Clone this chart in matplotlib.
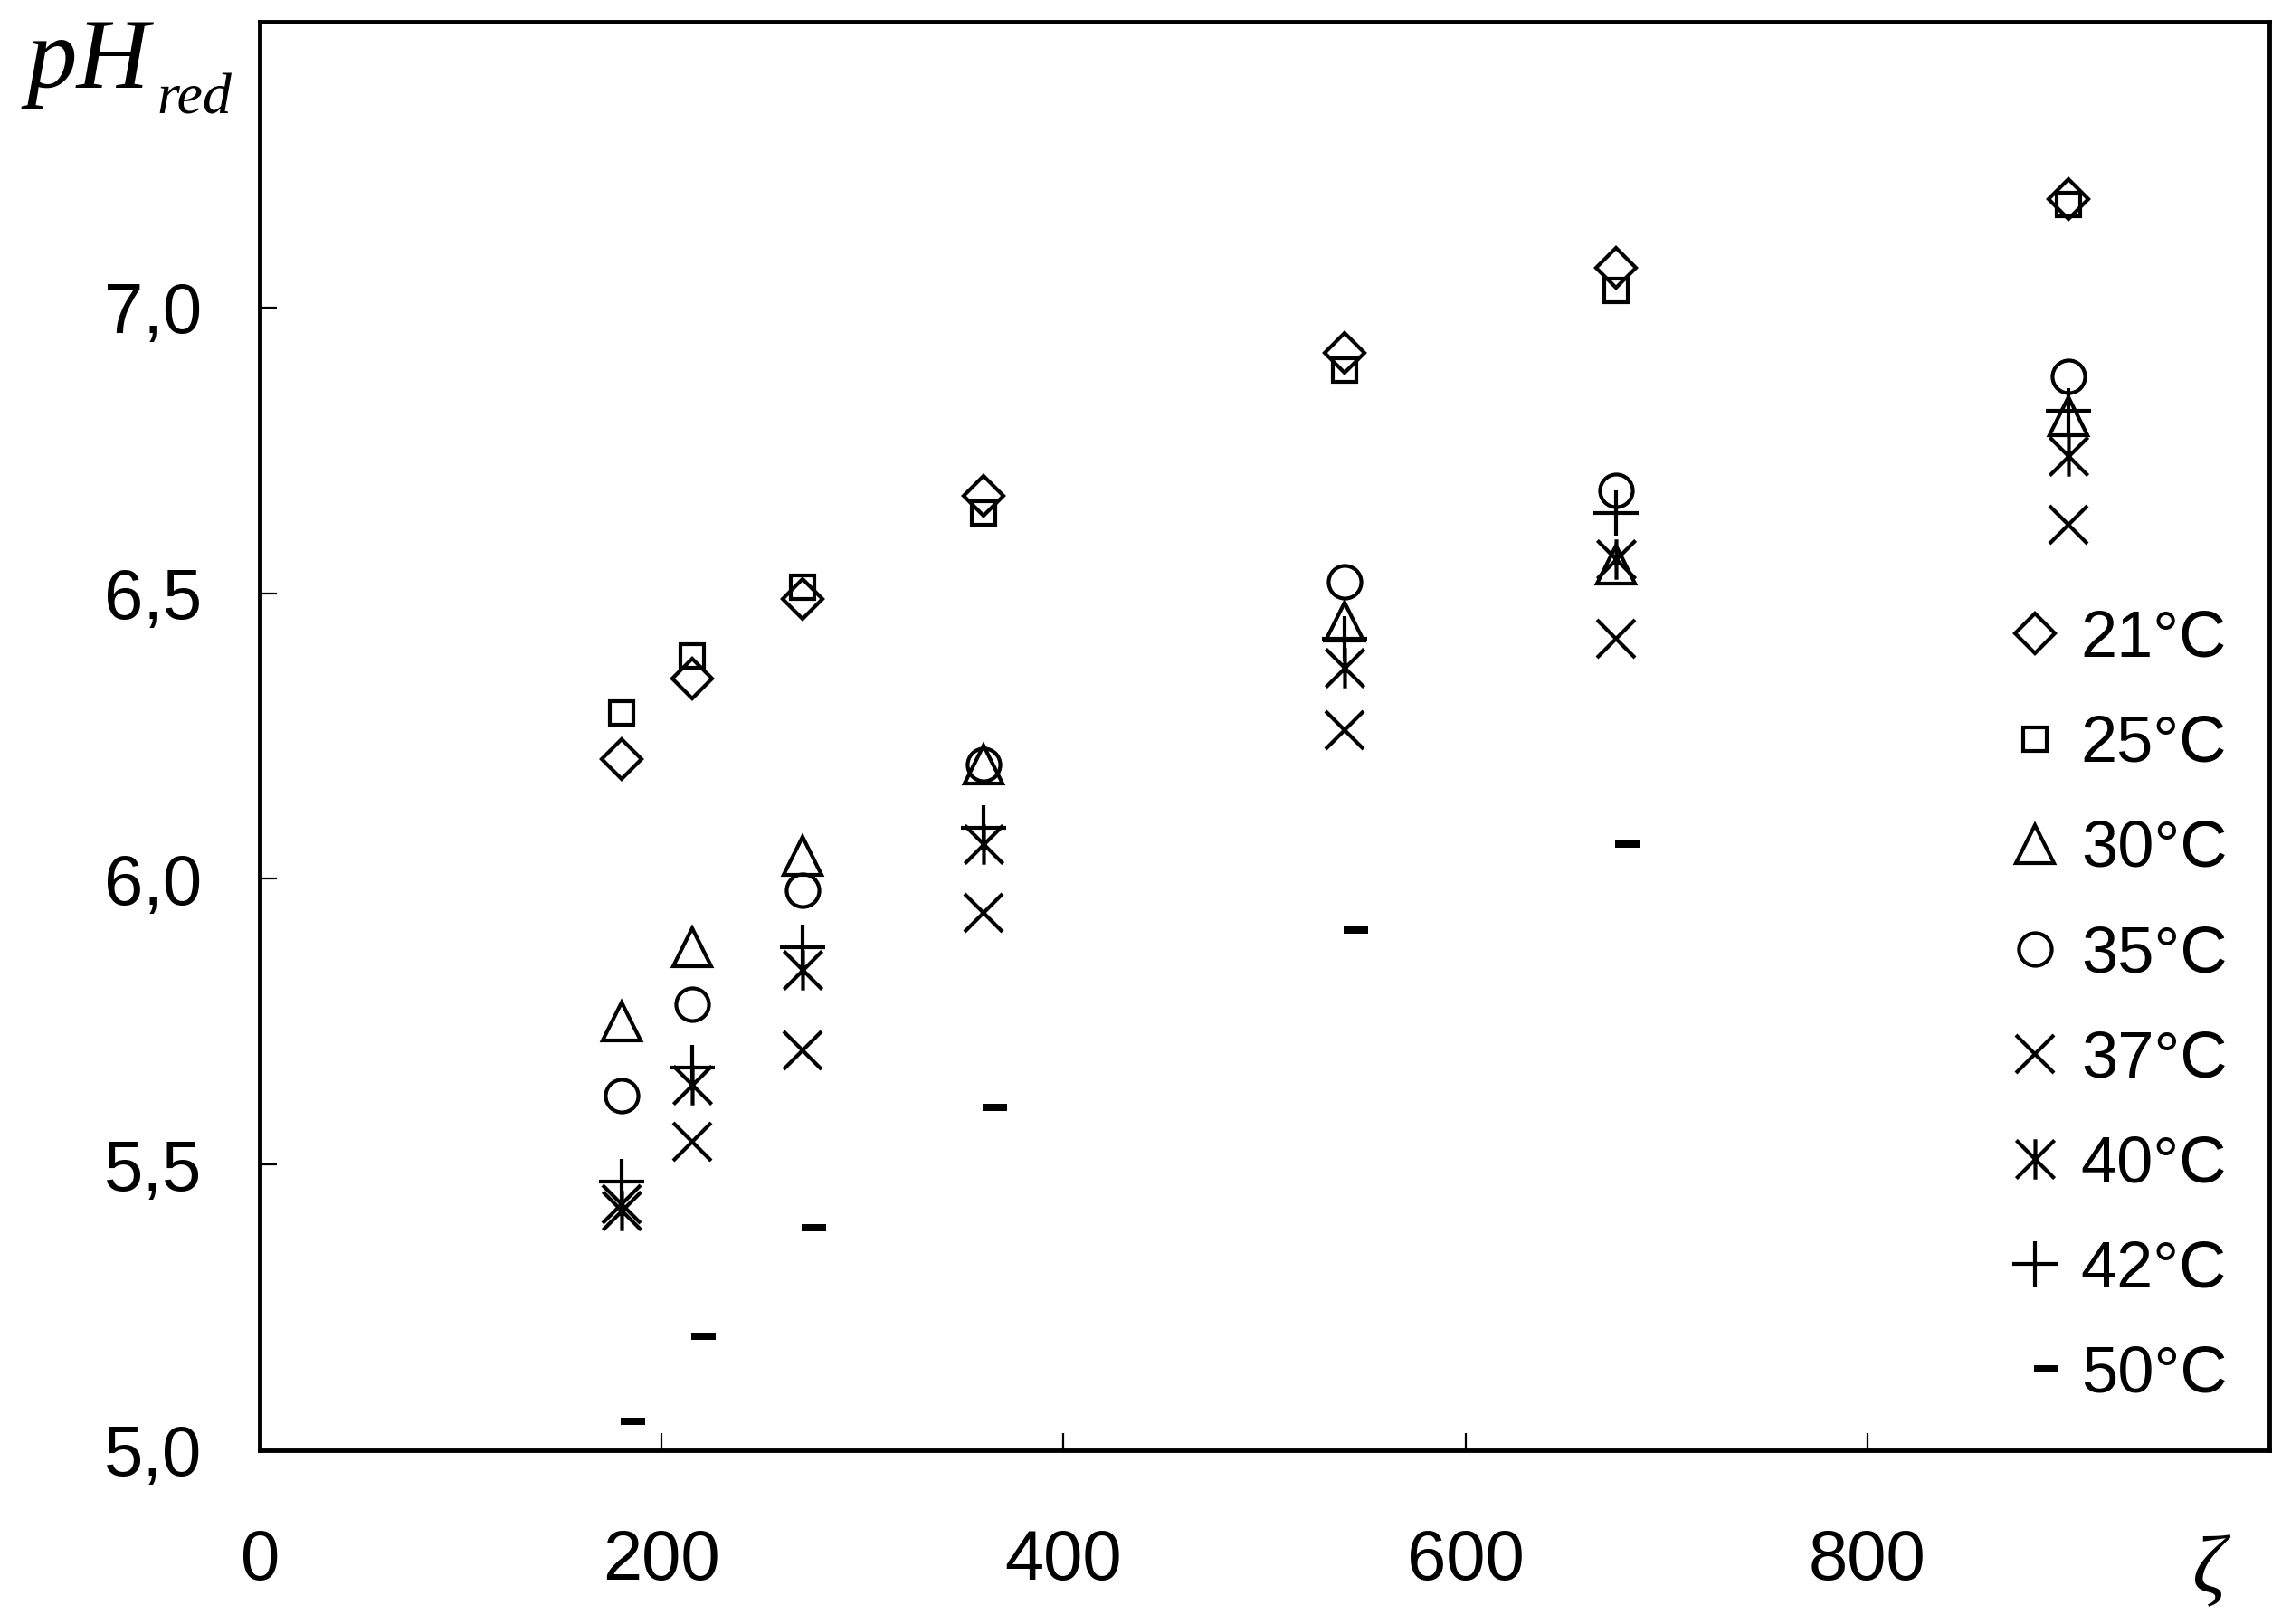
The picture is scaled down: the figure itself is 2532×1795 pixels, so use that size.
import matplotlib
matplotlib.use("Agg")
import matplotlib.pyplot as plt
from matplotlib.path import Path
from matplotlib.lines import Line2D

# zeta values (same for every series)
zeta = [180, 215, 270, 360, 540, 675, 900]

ph_21 = [6.21, 6.35, 6.49, 6.67, 6.92, 7.07, 7.19]
ph_25 = [6.29, 6.39, 6.51, 6.64, 6.89, 7.03, 7.18]
ph_30 = [5.75, 5.88, 6.04, 6.20, 6.45, 6.55, 6.81]
ph_35 = [5.62, 5.78, 5.98, 6.20, 6.52, 6.68, 6.88]
ph_37 = [5.43, 5.54, 5.70, 5.94, 6.26, 6.42, 6.62]
ph_40 = [5.42, 5.64, 5.84, 6.06, 6.37, 6.56, 6.74]
ph_42 = [5.47, 5.67, 5.88, 6.09, 6.42, 6.64, 6.82]
zeta_50 = [180, 215, 270, 360, 540, 675]
ph_50 = [5.05, 5.20, 5.39, 5.60, 5.91, 6.06]

labels = ["21°C", "25°C", "30°C", "35°C", "37°C", "40°C", "42°C", "50°C"]

y_ticks = [5.0, 5.5, 6.0, 6.5, 7.0]
y_tick_labels = ["5,0", "5,5", "6,0", "6,5", "7,0"]
x_ticks = [0, 200, 400, 600, 800]
x_tick_labels = ["0", "200", "400", "600", "800"]

# six-armed asterisk: X plus a vertical stroke
asterisk = Path(
    [(-0.95, -0.95), (0.95, 0.95), (-0.95, 0.95), (0.95, -0.95), (0, -1), (0, 1)],
    [Path.MOVETO, Path.LINETO, Path.MOVETO, Path.LINETO, Path.MOVETO, Path.LINETO],
)
# short thick dash sitting a bit right of the point, like a "-" glyph
dash = Path(
    [(-0.05, -0.17), (1.0, -0.17), (1.0, 0.17), (-0.05, 0.17), (-0.05, -0.17)],
    [Path.MOVETO, Path.LINETO, Path.LINETO, Path.LINETO, Path.CLOSEPOLY],
)

styles = [
    dict(marker="D", ms=22, mfc="none"),
    dict(marker="s", ms=19, mfc="none"),
    dict(marker="^", ms=30, mfc="none"),
    dict(marker="o", ms=26, mfc="none"),
    dict(marker="x", ms=30),
    dict(marker=asterisk, ms=32),
    dict(marker="+", ms=36),
    dict(marker=dash, ms=37, mfc="black", mew=0),
]
edge_width = 3.0

plt.rcParams["font.family"] = ["Liberation Sans", "DejaVu Sans"]

fig = plt.figure(figsize=(25.32, 17.95), dpi=100)
ax = fig.add_axes([0.1134, 0.107, 0.8771, 0.8796])

series = [ph_21, ph_25, ph_30, ph_35, ph_37, ph_40, ph_42]
for ys, st in zip(series, styles[:7]):
    ax.plot(zeta, ys, ls="none", color="black", mec="black", mew=edge_width, **st)
ax.plot(zeta_50, ph_50, ls="none", color="black", mec="black", **styles[7])

ax.set_xlim(0, 1000)
ax.set_ylim(5.0, 7.5)
ax.set_xticks(x_ticks)
ax.set_xticklabels(x_tick_labels)
ax.set_yticks(y_ticks)
ax.set_yticklabels(y_tick_labels)
ax.tick_params(axis="both", direction="in", length=14, width=1.6, labelsize=56)
ax.tick_params(axis="x", pad=62)
ax.tick_params(axis="y", pad=46)
for sp in ax.spines.values():
    sp.set_linewidth(3.5)

handles = []
for i, st in enumerate(styles):
    kw = dict(st)
    if i < 7:
        kw.setdefault("mew", edge_width)
    handles.append(Line2D([], [], ls="none", color="black", mec="black", **kw))
ax.legend(handles, labels, loc="lower right", bbox_to_anchor=(0.992, 0.013),
          frameon=False, fontsize=52, handlelength=0.8, handletextpad=0.3,
          labelspacing=0.68, borderaxespad=0)

serif = ["Liberation Serif", "DejaVu Serif"]
fig.text(0.0115, 0.946, "pH", family=serif, style="italic", fontsize=80,
         va="baseline", ha="left")
fig.text(0.0685, 0.930, "red", family=serif, style="italic", fontsize=46,
         va="baseline", ha="left")
fig.text(0.964, 0.032, "ζ", family=serif, style="italic", fontsize=66,
         va="center", ha="center")

fig.savefig("out.png", dpi=100, facecolor="white")
